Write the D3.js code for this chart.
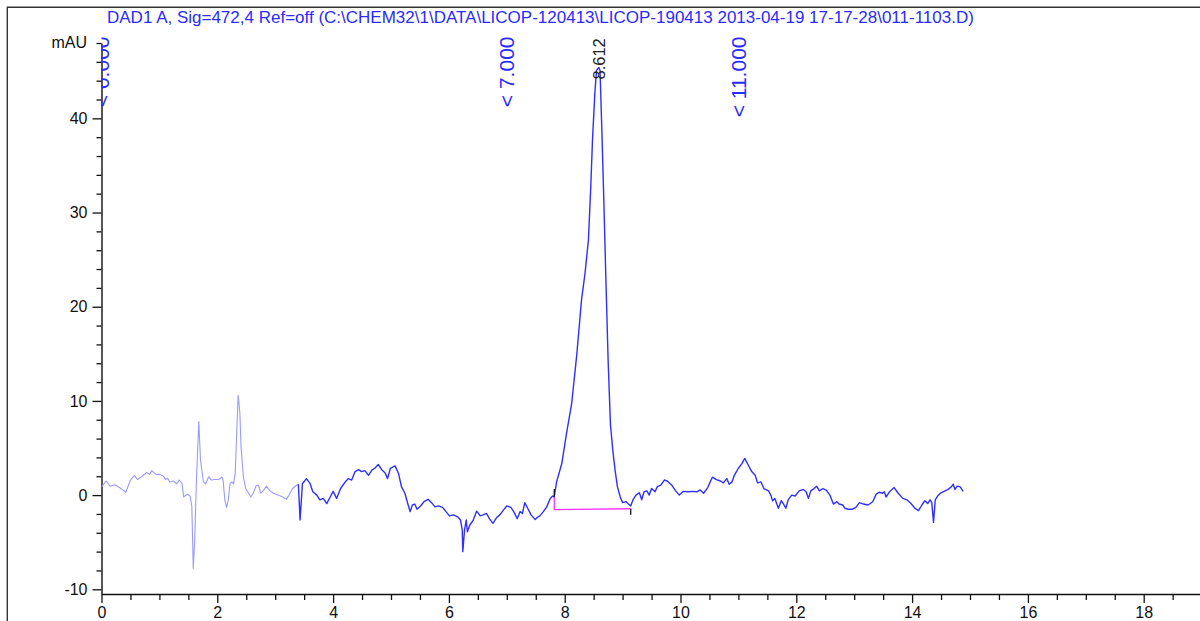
<!DOCTYPE html>
<html>
<head>
<meta charset="utf-8">
<script src="https://cdn.jsdelivr.net/npm/d3@7/dist/d3.min.js"></script>
<style>
  html, body { margin: 0; padding: 0; background: #fff; }
  svg { display: block; }
  text { font-family: "Liberation Sans", Arial, Helvetica, sans-serif; }
</style>
</head>
<body>
<svg id="chart" width="1200" height="621"></svg>
<script>
// DAD1 A chromatogram, signal 472,4 nm (mAU vs. minutes)

const titleText = "DAD1 A, Sig=472,4 Ref=off (C:\\CHEM32\\1\\DATA\\LICOP-120413\\LICOP-190413 2013-04-19 17-17-28\\011-1103.D)";
const yUnitLabel = "mAU";

// Signal before the first integration event (drawn lighter)
const lightTrace = [
  [0.00, 0.88], [0.08, 1.5], [0.15, 0.95], [0.23, 1.1], [0.31, 0.8], [0.38, 0.5], [0.42, 0.3],
  [0.50, 1.6], [0.57, 2.1], [0.62, 1.65], [0.69, 1.95], [0.78, 2.4], [0.83, 2.2], [0.87, 2.6],
  [0.94, 2.2], [1.01, 2.2], [1.07, 2.0], [1.11, 1.65], [1.14, 1.8], [1.18, 1.4], [1.24, 1.5],
  [1.30, 1.2], [1.34, 1.6], [1.39, 1.25], [1.42, -0.2], [1.48, 0.1], [1.53, -0.1], [1.56, -1.2],
  [1.585, -7.8], [1.61, -4.8], [1.64, 1.6], [1.68, 7.8], [1.71, 3.7], [1.76, 1.4], [1.80, 1.2],
  [1.85, 1.95], [1.90, 1.6], [1.96, 1.65], [2.02, 1.65], [2.08, 1.9], [2.10, 1.6], [2.13, -0.5],
  [2.16, -1.3], [2.19, -0.5], [2.22, 1.25], [2.25, 1.4], [2.28, 1.2], [2.31, 2.3], [2.33, 5.8],
  [2.36, 10.6], [2.39, 8.7], [2.41, 5.1], [2.45, 1.95], [2.49, 0.7], [2.54, 0.2], [2.58, -0.2],
  [2.62, 0.2], [2.67, 1.0], [2.71, 1.05], [2.75, 0.2], [2.79, 0.45], [2.85, 0.95], [2.90, 0.5],
  [2.97, 0.2], [3.05, 0.0], [3.13, -0.2], [3.19, -0.45], [3.24, 0.0], [3.30, 0.7], [3.37, 1.05],
  [3.40, 1.15]
];

// Remainder of the run
const mainTrace = [
  [3.40, 1.15], [3.43, -2.65], [3.47, 1.2], [3.54, 1.75], [3.60, 1.25], [3.65, 0.35], [3.72, 0.0],
  [3.77, -0.5], [3.83, -0.35], [3.89, -0.9], [3.95, -0.2], [4.00, 0.4], [4.06, -0.35], [4.13, 0.7],
  [4.21, 1.4], [4.26, 1.75], [4.32, 1.6], [4.38, 2.5], [4.44, 2.7], [4.49, 2.5], [4.55, 2.6],
  [4.61, 2.1], [4.67, 2.65], [4.72, 2.85], [4.78, 3.25], [4.84, 2.7], [4.90, 2.35], [4.94, 1.75],
  [4.99, 2.85], [5.07, 3.1], [5.13, 2.3], [5.18, 0.9], [5.24, 0.2], [5.28, -0.7], [5.33, -1.75],
  [5.37, -1.05], [5.41, -0.95], [5.45, -1.5], [5.51, -1.15], [5.57, -0.7], [5.64, -0.45], [5.70, -0.8],
  [5.76, -1.25], [5.82, -1.15], [5.89, -1.3], [5.95, -1.75], [6.01, -2.2], [6.08, -2.1], [6.15, -2.3],
  [6.20, -2.65], [6.23, -3.7], [6.24, -6.0], [6.27, -3.7], [6.30, -2.65], [6.32, -3.9], [6.36, -3.2],
  [6.42, -2.65], [6.48, -1.7], [6.54, -2.2], [6.59, -2.1], [6.65, -1.95], [6.70, -2.5], [6.76, -3.0],
  [6.83, -2.35], [6.88, -2.1], [6.94, -1.6], [7.00, -1.15], [7.07, -1.3], [7.12, -1.75], [7.18, -2.5],
  [7.23, -1.75], [7.27, -1.95], [7.31, -0.8], [7.36, -1.4], [7.42, -2.1], [7.49, -2.6], [7.53, -2.35],
  [7.57, -2.2], [7.63, -1.75], [7.69, -1.25], [7.75, -0.35], [7.79, -0.1], [7.82, -0.2], [7.86, 1.4],
  [7.95, 3.35], [8.03, 6.5], [8.12, 9.7], [8.21, 15.0], [8.29, 20.7], [8.35, 23.5], [8.41, 27.1],
  [8.45, 32.7], [8.48, 37.7], [8.52, 42.6], [8.55, 45.1], [8.59, 45.4], [8.61, 45.1], [8.64, 39.1],
  [8.68, 30.3], [8.71, 23.2], [8.75, 14.3], [8.79, 7.5], [8.83, 4.8], [8.87, 2.65], [8.91, 0.9],
  [8.96, -0.2], [9.00, -0.8], [9.06, -0.7], [9.10, -0.95], [9.14, -1.15], [9.18, -0.5], [9.23, 0.0],
  [9.29, 0.25], [9.33, -0.5], [9.37, 0.35], [9.42, 0.45], [9.46, 0.0], [9.50, 0.7], [9.56, 0.35],
  [9.60, 0.9], [9.66, 1.05], [9.72, 1.6], [9.77, 1.5], [9.85, 1.05], [9.91, 0.5], [9.98, 0.0],
  [10.05, 0.4], [10.13, 0.35], [10.21, 0.4], [10.28, 0.35], [10.34, 0.55], [10.40, 0.2], [10.47, 0.8],
  [10.55, 1.9], [10.62, 1.65], [10.69, 1.5], [10.74, 1.3], [10.80, 1.75], [10.84, 1.15], [10.89, 1.4],
  [10.93, 2.1], [11.00, 2.85], [11.06, 3.35], [11.11, 3.9], [11.17, 3.2], [11.23, 2.5], [11.29, 2.1],
  [11.33, 1.3], [11.39, 1.4], [11.44, 0.7], [11.52, 0.45], [11.56, 0.0], [11.59, -0.6], [11.63, -0.35],
  [11.69, -1.4], [11.74, -0.6], [11.78, -0.95], [11.82, -1.4], [11.86, -0.5], [11.92, 0.0], [11.98, -0.1],
  [12.05, 0.45], [12.12, 0.6], [12.17, 0.35], [12.21, -0.35], [12.25, 0.45], [12.29, 0.6], [12.35, 0.95],
  [12.40, 0.45], [12.46, 0.7], [12.52, 0.5], [12.58, 0.0], [12.64, -0.95], [12.70, -0.7], [12.74, -0.95],
  [12.80, -1.05], [12.84, -1.4], [12.90, -1.5], [12.97, -1.5], [13.03, -1.3], [13.09, -0.8], [13.16, -0.95],
  [13.24, -1.05], [13.32, -0.7], [13.38, 0.1], [13.43, 0.3], [13.49, 0.2], [13.52, 0.35], [13.55, -0.2],
  [13.61, 0.35], [13.69, 0.8], [13.76, 0.2], [13.84, -0.35], [13.91, -0.5], [13.98, -0.9], [14.05, -1.4],
  [14.11, -1.65], [14.17, -1.05], [14.22, -0.6], [14.27, -0.9], [14.31, -0.5], [14.34, -0.8], [14.37, -2.9],
  [14.40, -0.5], [14.44, -0.1], [14.49, 0.2], [14.57, 0.45], [14.62, 0.6], [14.68, 0.9], [14.71, 1.15],
  [14.74, 0.6], [14.78, 0.95], [14.82, 0.9], [14.84, 0.8], [14.88, 0.4]
];

// Integrated peak: retention time, start/end (min), signal at start, baseline values (mAU)
const peakRT = 8.612;
const peakStart = 7.82, peakEnd = 9.14;
const peakStartSignal = -0.2;
const baselineStart = -1.55, baselineEnd = -1.45;

// Timetable events (min)
const eventTimes = [0.0, 7.0, 11.0];
const eventLabels = ["< 0.000", "< 7.000", "< 11.000"];

// Axis ticks
const xMajorTicks = [0, 2, 4, 6, 8, 10, 12, 14, 16, 18];
const xMinorTicks = d3.range(0, 19.01, 0.5).filter(v => v % 2 !== 0);
const yMajorTicks = [-10, 0, 10, 20, 30, 40];
const yMinorTicks = d3.range(-10, 48.01, 2).filter(v => v % 10 !== 0);

const svg = d3.select("#chart");
const W = 1200, H = 621;
svg.append("rect").attr("width", W).attr("height", H).attr("fill", "#fff");

const x = d3.scaleLinear().domain([0, 19]).range([101.5, 101.5 + 19 * 57.9]);
const y = d3.scaleLinear().domain([-10.5, 48]).range([594, 43]);

// outer frame
svg.append("path")
  .attr("d", `M7.3,${H + 2} V7.3 H${W + 2}`)
  .attr("fill", "none").attr("stroke", "#333").attr("stroke-width", 1.4);

// title
svg.append("text")
  .attr("x", 107).attr("y", 22.5)
  .attr("font-size", 17).attr("fill", "#2b2bff")
  .text(titleText);

const clip = svg.append("clipPath").attr("id", "plotClip")
  .append("rect")
  .attr("x", x(0)).attr("y", 0)
  .attr("width", W - x(0)).attr("height", y(-10.5));

const plainNumber = d => String(d);

// Y axis
svg.append("g").attr("transform", `translate(${x(0)},0)`)
  .call(d3.axisLeft(y).tickValues(yMajorTicks).tickFormat(plainNumber)
    .tickSize(9).tickPadding(5).tickSizeOuter(0))
  .call(g => g.select(".domain").attr("stroke-width", 1.4).attr("stroke", "#111"))
  .call(g => g.selectAll(".tick line").attr("stroke-width", 1.3).attr("stroke", "#111"))
  .call(g => g.selectAll(".tick text").attr("font-size", 16).attr("fill", "#111")
    .attr("font-family", "'Liberation Sans', Arial, sans-serif"));
svg.append("g").attr("transform", `translate(${x(0)},0)`)
  .call(d3.axisLeft(y).tickValues(yMinorTicks).tickSize(5).tickFormat("").tickSizeOuter(0))
  .call(g => g.select(".domain").remove())
  .call(g => g.selectAll(".tick line").attr("stroke-width", 1.3).attr("stroke", "#111"));
svg.append("text")
  .attr("x", x(0) - 14.5).attr("y", y(48)).attr("dy", "0.32em")
  .attr("text-anchor", "end").attr("font-size", 16).attr("fill", "#111")
  .text(yUnitLabel);

// X axis
svg.append("g").attr("transform", `translate(0,${y(-10.5)})`)
  .call(d3.axisBottom(x).tickValues(xMajorTicks).tickFormat(plainNumber)
    .tickSize(9).tickPadding(4).tickSizeOuter(0))
  .call(g => g.select(".domain").attr("stroke-width", 1.4).attr("stroke", "#111"))
  .call(g => g.selectAll(".tick line").attr("stroke-width", 1.3).attr("stroke", "#111"))
  .call(g => g.selectAll(".tick text").attr("font-size", 16).attr("fill", "#111")
    .attr("font-family", "'Liberation Sans', Arial, sans-serif"));
svg.append("g").attr("transform", `translate(0,${y(-10.5)})`)
  .call(d3.axisBottom(x).tickValues(xMinorTicks).tickSize(6).tickFormat("").tickSizeOuter(0))
  .call(g => g.select(".domain").remove())
  .call(g => g.selectAll(".tick line").attr("stroke-width", 1.3).attr("stroke", "#111"));

const plot = svg.append("g").attr("clip-path", "url(#plotClip)");

const line = d3.line().x(d => x(d[0])).y(d => y(d[1]));

plot.append("path").datum(lightTrace)
  .attr("d", line).attr("fill", "none")
  .attr("stroke", "#9a9aff").attr("stroke-width", 1.1).attr("stroke-linejoin", "round");
plot.append("path").datum(mainTrace)
  .attr("d", line).attr("fill", "none")
  .attr("stroke", "#2f2fff").attr("stroke-width", 1.4).attr("stroke-linejoin", "round");

// integration baseline
plot.append("path")
  .datum([[peakStart, peakStartSignal], [peakStart, baselineStart], [peakEnd, baselineEnd]])
  .attr("d", line).attr("fill", "none")
  .attr("stroke", "#ff33ff").attr("stroke-width", 1.3);
// peak start / end markers
plot.append("line")
  .attr("x1", x(peakStart)).attr("x2", x(peakStart))
  .attr("y1", y(peakStartSignal)).attr("y2", y(peakStartSignal) - 8)
  .attr("stroke", "#111").attr("stroke-width", 1.3);
plot.append("line")
  .attr("x1", x(peakEnd)).attr("x2", x(peakEnd))
  .attr("y1", y(baselineEnd)).attr("y2", y(baselineEnd) + 6)
  .attr("stroke", "#111").attr("stroke-width", 1.3);

// retention time label
const apex = d3.greatest(mainTrace, d => d[1]);
plot.append("text")
  .attr("transform", `translate(${x(peakRT)},${y(apex[1]) + 12}) rotate(-90)`)
  .attr("dy", "0.3em")
  .attr("font-size", 16.5).attr("fill", "#222")
  .text(d3.format(".3f")(peakRT));

// timetable event labels
plot.selectAll("text.event").data(eventTimes).join("text")
  .attr("class", "event")
  .attr("transform", d => `translate(${x(d)},36.5) rotate(-90)`)
  .attr("dy", "0.36em")
  .attr("text-anchor", "end")
  .attr("font-size", 21).attr("fill", "#2b2bff")
  .text((d, i) => eventLabels[i]);
</script>
</body>
</html>
